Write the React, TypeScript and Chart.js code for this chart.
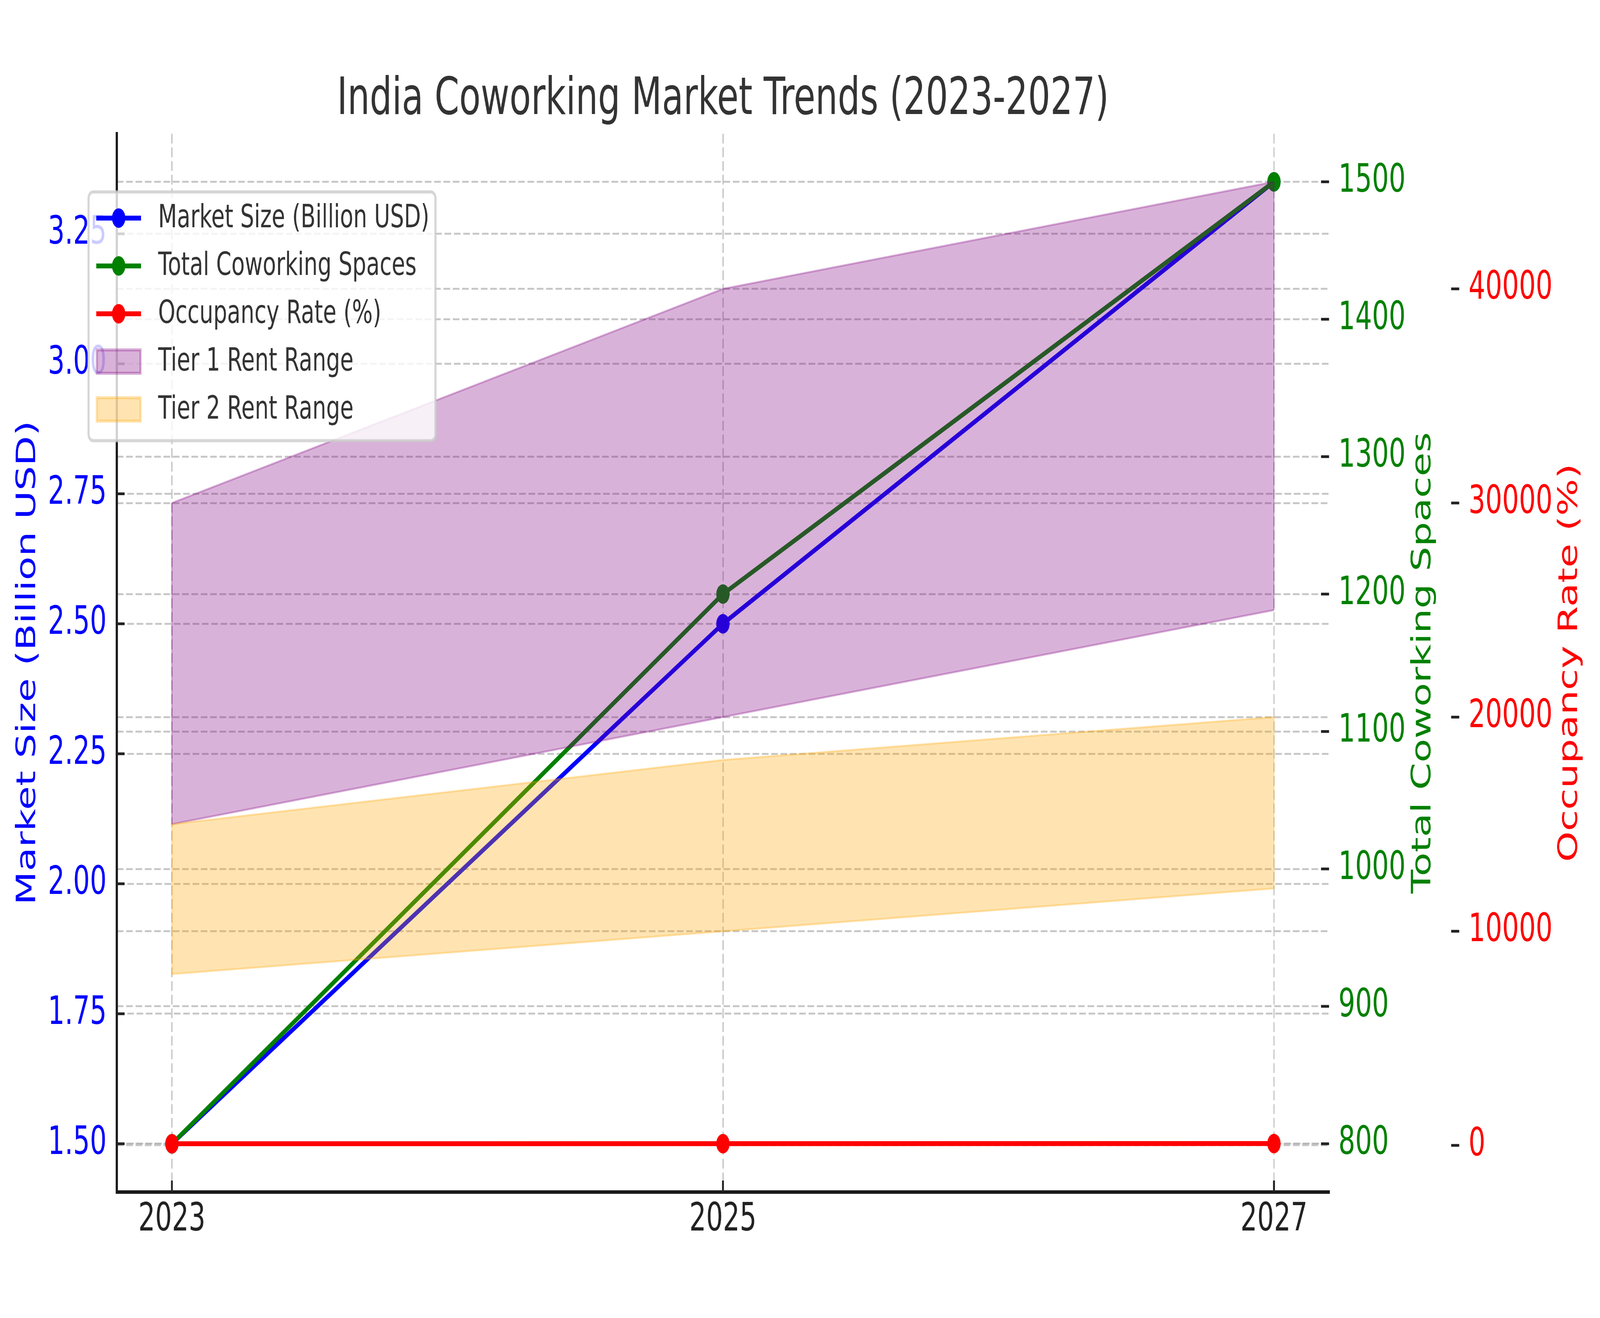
import React, { useEffect, useRef } from 'react';
import { Chart, registerables, type ChartConfiguration, type Plugin } from 'chart.js';

Chart.register(...registerables);

const YEARS = [2023, 2025, 2027];
const MARKET_SIZE = [1.5, 2.5, 3.35];
const COWORKING_SPACES = [800, 1200, 1500];
const OCCUPANCY_RATE = [75, 80, 85];
const TIER1_LOW = [15000, 20000, 25000];
const TIER1_HIGH = [30000, 40000, 45000];
const TIER2_LOW = [8000, 10000, 12000];
const TIER2_HIGH = [15000, 18000, 20000];

const MARKET_TICKS = [1.5, 1.75, 2.0, 2.25, 2.5, 2.75, 3.0, 3.25];
const SPACES_TICKS = [800, 900, 1000, 1100, 1200, 1300, 1400, 1500];
const OCCUPANCY_TICKS = [0, 10000, 20000, 30000, 40000];

const W = 6000;
const H = 3375;
const FONT = "'DejaVu Sans', sans-serif";
const TIER1_COLOR = 'rgba(128, 0, 128, 0.3)';
const TIER2_COLOR = 'rgba(255, 165, 0, 0.3)';
const GRID_COLOR = 'rgba(176, 176, 176, 0.7)';
const DASH = [25, 10];

const LEGEND = [
  { label: 'Market Size (Billion USD)', color: 'blue', patch: false },
  { label: 'Total Coworking Spaces', color: 'green', patch: false },
  { label: 'Occupancy Rate (%)', color: 'red', patch: false },
  { label: 'Tier 1 Rent Range', color: TIER1_COLOR, patch: true },
  { label: 'Tier 2 Rent Range', color: TIER2_COLOR, patch: true },
];

const BANDS = [
  { low: TIER1_LOW, high: TIER1_HIGH, color: TIER1_COLOR },
  { low: TIER2_LOW, high: TIER2_HIGH, color: TIER2_COLOR },
];

// matplotlib-style autoscale: 5% margin on each side
const padRange = (vals: number[]) => {
  const lo = Math.min(...vals);
  const hi = Math.max(...vals);
  const m = (hi - lo) * 0.05;
  return { min: lo - m, max: hi + m };
};

const points = (ys: number[]) => YEARS.map((x, i) => ({ x, y: ys[i] }));

const seriesLine = (label: string, ys: number[], color: string, axis: string, order: number) => ({
  label,
  data: points(ys),
  yAxisID: axis,
  borderColor: color,
  backgroundColor: color,
  borderWidth: 12.5,
  pointRadius: 25,
  pointBorderWidth: 0,
  pointBackgroundColor: color,
  fill: false,
  order,
});

const bandEdge = (label: string, ys: number[], color: string, fill: string | boolean, order: number) => ({
  label,
  data: points(ys),
  yAxisID: 'y2',
  borderColor: color,
  backgroundColor: color,
  borderWidth: 5,
  pointRadius: 0,
  fill,
  order,
});

const seg = (ctx: CanvasRenderingContext2D, x1: number, y1: number, x2: number, y2: number) => {
  ctx.beginPath();
  ctx.moveTo(x1, y1);
  ctx.lineTo(x2, y2);
  ctx.stroke();
};

const decorations: Plugin = {
  id: 'decorations',
  afterDatasetsDraw(chart) {
    // closing side edges of the rent bands, as fill_between strokes them
    const { ctx, scales } = chart;
    ctx.save();
    ctx.lineWidth = 5;
    BANDS.forEach((b) => {
      ctx.strokeStyle = b.color;
      [0, YEARS.length - 1].forEach((i) => {
        const px = scales.x.getPixelForValue(YEARS[i]);
        seg(ctx, px, scales.y2.getPixelForValue(b.low[i]), px, scales.y2.getPixelForValue(b.high[i]));
      });
    });
    ctx.restore();
  },
  afterDraw(chart) {
    const { ctx, chartArea, scales } = chart;
    const midY = (chartArea.top + chartArea.bottom) / 2;
    ctx.save();

    // inward tick marks
    ctx.strokeStyle = '#222';
    ctx.lineWidth = 7;
    scales.x.ticks.forEach((t) => {
      const p = scales.x.getPixelForValue(t.value);
      seg(ctx, p, chartArea.bottom, p, chartArea.bottom - 29);
    });
    scales.y.ticks.forEach((t) => {
      const p = scales.y.getPixelForValue(t.value);
      seg(ctx, chartArea.left, p, chartArea.left + 29, p);
    });
    scales.y1.ticks.forEach((t) => {
      const p = scales.y1.getPixelForValue(t.value);
      seg(ctx, chartArea.right - 30, p, chartArea.right, p);
    });
    scales.y2.ticks.forEach((t) => {
      const p = scales.y2.getPixelForValue(t.value);
      seg(ctx, scales.y2.left - 30, p, scales.y2.left, p);
    });

    // axis titles, reading bottom to top
    const vTitle = (text: string, color: string, x: number) => {
      ctx.save();
      ctx.translate(x, midY);
      ctx.rotate(-Math.PI / 2);
      ctx.font = `100px ${FONT}`;
      ctx.fillStyle = color;
      ctx.textAlign = 'center';
      ctx.textBaseline = 'alphabetic';
      ctx.fillText(text, 0, 0);
      ctx.restore();
    };
    vTitle('Market Size (Billion USD)', 'blue', scales.y.left + 132);
    vTitle('Total Coworking Spaces', 'green', scales.y1.right - 108);
    vTitle('Occupancy Rate (%)', 'red', scales.y2.right - 86);

    // legend box
    const lx = chartArea.left - 106;
    const ly = chartArea.top + 149;
    ctx.beginPath();
    ctx.roundRect(lx, ly, 1301, 637, 17);
    ctx.fillStyle = 'rgba(255, 255, 255, 0.8)';
    ctx.fill();
    ctx.strokeStyle = 'rgba(204, 204, 204, 0.8)';
    ctx.lineWidth = 8;
    ctx.stroke();

    LEGEND.forEach((item, i) => {
      const cy = ly + 67 + i * 122.5;
      if (item.patch) {
        ctx.fillStyle = item.color;
        ctx.strokeStyle = item.color;
        ctx.lineWidth = 8;
        ctx.fillRect(lx + 31, cy - 30, 164, 60);
        ctx.strokeRect(lx + 31, cy - 30, 164, 60);
      } else {
        ctx.strokeStyle = item.color;
        ctx.lineWidth = 12.5;
        seg(ctx, lx + 29, cy, lx + 197, cy);
        ctx.fillStyle = item.color;
        ctx.beginPath();
        ctx.arc(lx + 113, cy, 25, 0, Math.PI * 2);
        ctx.fill();
      }
      ctx.font = `82px ${FONT}`;
      ctx.fillStyle = '#333';
      ctx.textAlign = 'left';
      ctx.textBaseline = 'middle';
      ctx.fillText(item.label, lx + 261, cy + 2);
    });

    ctx.restore();
  },
};

const tickFont = { size: 99, family: FONT };

export default function App() {
  const canvasRef = useRef<HTMLCanvasElement | null>(null);
  // the 6000x3375 drawing is shown over the whole viewport
  const vw = window.innerWidth;
  const vh = window.innerHeight;

  useEffect(() => {
    if (!canvasRef.current) return;

    const config: ChartConfiguration = {
      type: 'line',
      data: {
        datasets: [
          seriesLine('Market Size (Billion USD)', MARKET_SIZE, 'blue', 'y', 6),
          seriesLine('Total Coworking Spaces', COWORKING_SPACES, 'green', 'y1', 5),
          seriesLine('Occupancy Rate (%)', OCCUPANCY_RATE, 'red', 'y2', 1),
          bandEdge('Tier 1 Rent Low', TIER1_LOW, TIER1_COLOR, false, 4),
          bandEdge('Tier 1 Rent Range', TIER1_HIGH, TIER1_COLOR, '-1', 4),
          bandEdge('Tier 2 Rent Low', TIER2_LOW, TIER2_COLOR, false, 3),
          bandEdge('Tier 2 Rent Range', TIER2_HIGH, TIER2_COLOR, '-1', 3),
        ] as any,
      },
      options: {
        responsive: false,
        devicePixelRatio: 1,
        animation: false,
        events: [],
        layout: { padding: 0 },
        elements: { line: { tension: 0, borderJoinStyle: 'round' } },
        plugins: {
          legend: { display: false },
          tooltip: { enabled: false },
          title: {
            display: true,
            text: 'India Coworking Market Trends (2023-2027)',
            color: '#333',
            font: { size: 132, family: FONT, weight: 'normal' },
            padding: { top: 179, bottom: 5 },
            fullSize: false,
          },
        },
        scales: {
          x: {
            type: 'linear',
            ...padRange(YEARS),
            afterBuildTicks: (s: any) => {
              s.ticks = YEARS.map((value) => ({ value }));
            },
            afterFit: (s: any) => {
              s.height = 323;
            },
            ticks: {
              autoSkip: false,
              maxRotation: 0,
              padding: 14,
              color: '#222',
              font: tickFont,
              callback: (v: any) => String(v),
            },
            grid: { color: GRID_COLOR, lineWidth: 5, drawTicks: false },
            border: { display: true, color: '#1a1a1a', width: 9, dash: DASH },
          },
          y: {
            type: 'linear',
            position: 'left',
            ...padRange(MARKET_SIZE),
            afterBuildTicks: (s: any) => {
              s.ticks = MARKET_TICKS.map((value) => ({ value }));
            },
            afterFit: (s: any) => {
              s.width = 438;
            },
            ticks: {
              padding: 38,
              color: 'blue',
              font: tickFont,
              callback: (v: any) => Number(v).toFixed(2),
            },
            grid: { color: GRID_COLOR, lineWidth: 5, drawTicks: false },
            border: { display: true, color: '#1a1a1a', width: 8, dash: DASH },
          },
          y1: {
            type: 'linear',
            position: 'right',
            ...padRange(COWORKING_SPACES),
            afterBuildTicks: (s: any) => {
              s.ticks = SPACES_TICKS.map((value) => ({ value }));
            },
            afterFit: (s: any) => {
              s.width = 488;
            },
            ticks: {
              padding: 35,
              color: 'green',
              font: tickFont,
              callback: (v: any) => String(v),
            },
            grid: { color: GRID_COLOR, lineWidth: 5, drawTicks: false },
            border: { display: false, dash: DASH },
          },
          y2: {
            type: 'linear',
            position: 'right',
            ...padRange([...OCCUPANCY_RATE, ...TIER1_LOW, ...TIER1_HIGH, ...TIER2_LOW, ...TIER2_HIGH]),
            afterBuildTicks: (s: any) => {
              s.ticks = OCCUPANCY_TICKS.map((value) => ({ value }));
            },
            afterFit: (s: any) => {
              s.width = 528;
            },
            ticks: {
              padding: 35,
              color: 'red',
              font: tickFont,
              callback: (v: any) => String(v),
            },
            grid: { color: GRID_COLOR, lineWidth: 5, drawTicks: false },
            border: { display: false, dash: DASH },
          },
        },
      },
      plugins: [decorations],
    };

    const chart = new Chart(canvasRef.current, config);
    return () => {
      chart.destroy();
    };
  }, []);

  return (
    <div style={{ position: 'fixed', left: 0, top: 0, width: vw, height: vh, background: '#fff' }}>
      <canvas ref={canvasRef} width={W} height={H} style={{ display: 'block', width: vw, height: vh }} />
    </div>
  );
}
